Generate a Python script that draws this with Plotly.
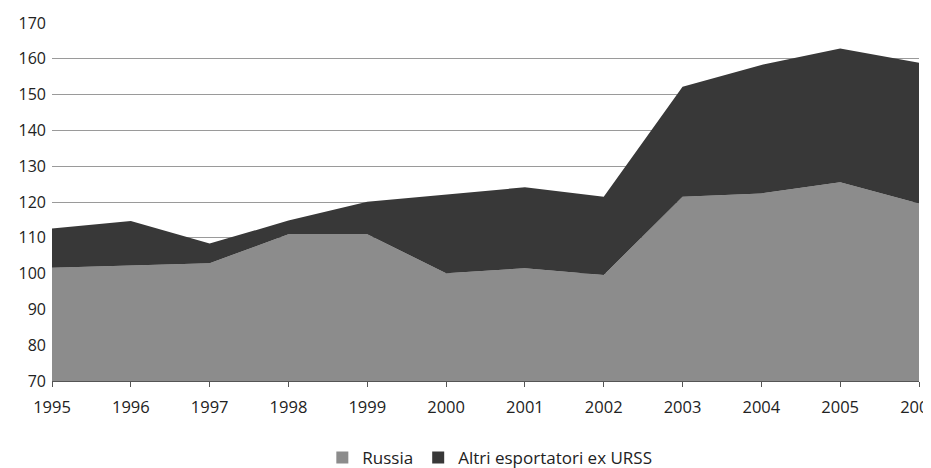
import plotly.graph_objects as go

years = [1995, 1996, 1997, 1998, 1999, 2000, 2001, 2002, 2003, 2004, 2005, 2006]
russia = [101.6, 102.2, 102.9, 111.0, 111.0, 100.1, 101.5, 99.6, 121.5, 122.4, 125.5, 119.6]
altri = [11.0, 12.5, 5.5, 3.8, 9.1, 22.0, 22.6, 21.9, 30.7, 35.9, 37.4, 39.3]
y_ticks = [70, 80, 90, 100, 110, 120, 130, 140, 150, 160, 170]
names = ["Russia", "Altri esportatori ex URSS"]
colors = ["#8c8c8c", "#383838"]

FONT = "Open Sans"

fig = go.Figure()
for vals, nm, col in zip([russia, altri], names, colors):
    fig.add_trace(go.Scatter(
        x=years, y=vals, name=nm, mode="lines",
        stackgroup="one", line=dict(width=0, color=col),
        fillcolor=col, showlegend=False,
    ))
# legend entries with square swatches
for nm, col in zip(names, colors):
    fig.add_trace(go.Scatter(
        x=[None], y=[None], name=nm, mode="markers",
        marker=dict(symbol="square", size=11, color=col),
        showlegend=True,
    ))

# the page body adds an 8px offset, so the figure is sized to fit the window
fig.update_layout(
    width=923, height=460,
    margin=dict(l=44, r=12, t=15, b=87, autoexpand=False),
    paper_bgcolor="white", plot_bgcolor="white",
    font=dict(family=FONT, size=16, color="#222222"),
    showlegend=True,
    legend=dict(
        orientation="h", x=0.505, xanchor="center", y=-0.215, yanchor="middle",
        font=dict(family=FONT, size=17, color="#222222"),
        itemwidth=30, traceorder="normal", itemsizing="constant",
        tracegroupgap=0,
    ),
    xaxis=dict(
        range=[1995, 2006], tickvals=years, ticktext=[str(y) for y in years],
        showgrid=False, zeroline=False, automargin=False,
        showline=True, linecolor="#555555", linewidth=1,
        ticks="outside", ticklen=5, tickcolor="#555555",
        ticklabelstandoff=6,
        tickfont=dict(size=16.5), ticklabeloverflow="allow",
    ),
    yaxis=dict(
        range=[70, 170], tickvals=y_ticks, automargin=False,
        showgrid=True, gridcolor="#9a9a9a", gridwidth=1,
        zeroline=False, showline=False, ticks="",
        ticklabelstandoff=5, tickfont=dict(size=16),
    ),
)

fig.write_html("out.html")
